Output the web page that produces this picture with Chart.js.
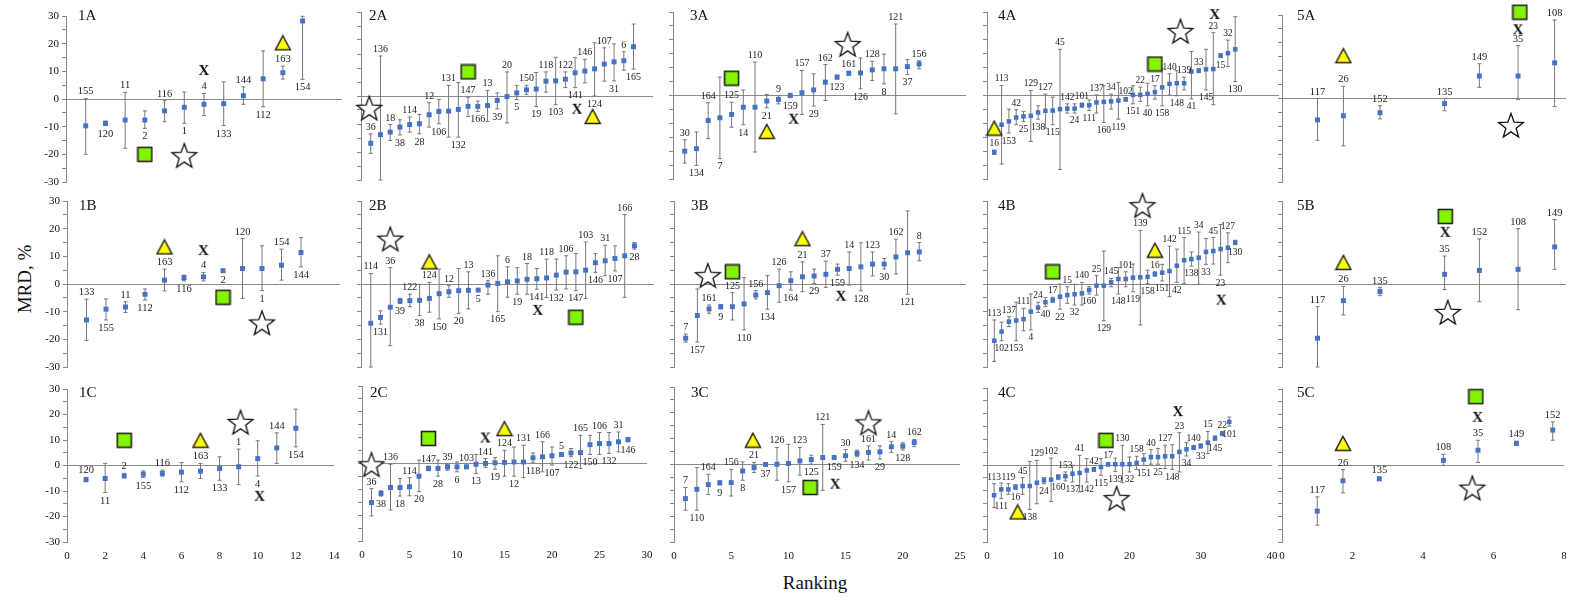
<!DOCTYPE html>
<html>
<head>
<meta charset="utf-8">
<script src="https://cdn.jsdelivr.net/npm/chart.js@4.4.1/dist/chart.umd.min.js"></script>
<style>
  body { margin: 0; background: #fff; width: 1593px; height: 597px; overflow: hidden; position: relative;
         font-family: "Liberation Serif", "Times New Roman", serif; color: #111; }
  canvas { position: absolute; }
  #ylab { position: absolute; left: 25px; top: 279px; transform: translate(-50%, -50%) rotate(-90deg);
          font-size: 19px; white-space: nowrap; }
  #xlab { position: absolute; left: 815px; top: 583px; transform: translate(-50%, -50%); font-size: 19px; }
</style>
</head>
<body>
<div id="ylab">MRD, %</div>
<div id="xlab">Ranking</div>
<script>
const FONT = '"Liberation Serif", "Times New Roman", serif';

// ---- column 1 ----
const ids_1A = [155, 120, 11, 2, 116, 1, 4, 133, 144, 112, 163, 154];
const mrd_1A = [-9.7, -8.8, -7.6, -7.6, -4.3, -3.0, -1.9, -1.7, 1.2, 7.3, 9.5, 28.2];
const hi_1A = [0.2, -8.0, 2.4, -4.3, -0.6, 2.5, 2.0, 6.2, 4.4, 17.4, 11.9, 29.9];
const lo_1A = [-20, -9.6, -17.8, -10.6, -8.2, -8.8, -6.0, -9.6, -1.9, -2.8, 7.2, 7.1];
const side_1A = "ababa babab ab";
const marks_1A = { star: [6, -20.3], sq: [4, -20], tri: [11, 20.3], x: [7, 10.1] };

const ids_1B = [133, 155, 11, 112, 163, 116, 4, 2, 120, 1, 154, 144];
const mrd_1B = [-13.0, -9.1, -8.3, -3.7, 1.4, 2.3, 2.6, 4.8, 5.6, 5.6, 6.8, 11.4];
const hi_1B = [-5.5, -5.4, -6.4, -1.8, 5.4, 3.2, 4.2, 5.3, 16.4, 13.8, 12.6, 16.8];
const lo_1B = [-20.4, -13.0, -10.3, -5.8, -2.5, 1.2, 1.1, 4.3, -5.2, -2.4, 1.4, 6.2];
const side_1B = "ababa babab ab";
const marks_1B = { star: [10, -13.9], sq: [8, -4.8], tri: [5, 13.4], x: [7, 11.9] };

const ids_1C = [120, 11, 2, 155, 116, 112, 163, 133, 1, 4, 144, 154];
const mrd_1C = [-5.5, -5.1, -4.1, -3.4, -3.1, -2.6, -2.2, -1.2, -0.5, 2.7, 6.9, 14.6];
const hi_1C = [-4.7, 0.8, -3.1, -2.1, -1.8, 1.2, 0.8, 3.4, 6.4, 9.7, 12.8, 22.1];
const lo_1C = [-6.4, -10.6, -4.8, -4.7, -4.2, -6.4, -5.1, -5.8, -7.5, -4.1, 0.8, 7.3];
const side_1C = "ababa babab ab";
const marks_1C = { star: [9.1, 17.1], sq: [3, 9.9], tri: [7, 9.9], x: [10.1, -12.3] };

// ---- column 2 ----
const ids_2A = [36, 136, 18, 38, 114, 28, 12, 106, 131, 132, 147, 166, 13, 39, 20, 5, 150, 19, 118, 103, 122, 141, 146, 124, 107, 31, 6, 165];
const mrd_2A = [-16.9, -13.8, -12.9, -11.1, -10.2, -9.9, -6.7, -5.5, -5.4, -4.8, -3.7, -3.7, -3.4, -1.6, -0.2, 1.1, 2.2, 2.5, 5.3, 5.4, 6.0, 8.3, 8.9, 9.7, 11.4, 12.2, 12.6, 17.6];
const hi_2A = [-13.5, 14.3, -10.2, -8.5, -7.5, -6.6, -2.4, -1.2, 3.8, 4.8, -0.4, -1.8, 2.0, 1.1, 8.6, 3.8, 3.8, 8.4, 8.6, 13.8, 8.6, 13.7, 13.1, 19.0, 17.2, 18.6, 15.8, 25.7];
const lo_2A = [-20.5, -30, -15.9, -13.9, -12.9, -13.5, -11.1, -9.9, -14.7, -14.7, -7.3, -5.5, -9.1, -4.6, -9.6, -1.3, 0.5, -3.7, 1.4, -3.1, 3.0, 3.0, 4.7, 0, 5.3, 5.4, 9.2, 9.6];
const side_2A = "aaaba babab ababa babab ababa bab";
const marks_2A = { star: [0.85, -4.2], sq: [11, 8.6], tri: [23.8, -7.3], x: [22.2, -4.9] };

const ids_2B = [114, 131, 36, 39, 122, 38, 124, 150, 12, 20, 13, 5, 136, 165, 6, 19, 18, 141, 118, 132, 106, 147, 103, 146, 31, 107, 166, 28];
const mrd_2B = [-14.2, -12.1, -8.4, -6.1, -6.0, -5.9, -5.2, -3.5, -2.8, -2.4, -2.3, -2.2, -0.4, 0.2, 0.8, 1.1, 1.7, 1.9, 2.2, 3.2, 4.3, 4.4, 5.0, 7.7, 8.4, 9.2, 10.2, 13.8];
const hi_2B = [3.8, -9.7, 5.9, -5.2, -3.7, -0.1, 0.6, 5.4, -0.6, 5.6, 4.4, -1.7, 1.2, 10.2, 6.2, 5.9, 7.4, 5.6, 9.0, 9.0, 10.2, 11.0, 15.2, 11.0, 14.0, 13.8, 25.1, 15.0];
const lo_2B = [-30, -14.5, -22.3, -7.0, -8.2, -11.4, -10.2, -12.6, -4.8, -10.6, -9.0, -2.7, -3.7, -10.0, -4.8, -3.7, -3.7, -1.9, -4.9, -2.2, -1.8, -2.4, -5.2, 4.2, 3.0, 4.7, -4.8, 12.6];
const side_2B = "ababa babab ababa babab ababa bab";
const marks_2B = { star: [3, 16.4], sq: [22, -12.0], tri: [7, 8.0], x: [18.1, -9.7] };

const ids_2C = [36, 38, 136, 18, 114, 20, 147, 28, 39, 6, 103, 13, 141, 19, 124, 12, 131, 118, 166, 107, 5, 122, 165, 150, 106, 132, 31, 146];
const mrd_2C = [-15.1, -11.6, -9.3, -9.3, -9.0, -4.9, -1.9, -1.9, -1.3, -1.3, -1.3, -0.3, 0, 0.3, 0.4, 0.6, 0.6, 2.2, 2.6, 3.0, 3.5, 4.1, 4.2, 7.3, 7.7, 7.7, 8.4, 9.3];
const hi_2C = [-9.7, -10.6, -0.3, -5.8, -5.5, 1.3, -1.0, 1.3, -0.3, 0.6, -0.6, 3.5, 1.9, 2.3, 5.1, 6.4, 7.1, 4.1, 8.4, 6.4, 4.1, 5.8, 10.9, 10.9, 12.0, 12.0, 12.2, 10.0];
const lo_2C = [-20.3, -12.6, -18.0, -12.6, -12.5, -10.9, -2.8, -4.9, -2.6, -3.2, -1.9, -3.9, -1.5, -2.2, -4.9, -4.9, -5.5, 0.3, -3.2, -0.6, 2.8, 2.6, -1.9, 3.5, 3.5, 3.9, 4.5, 8.4];
const side_2C = "ababa babab ababa babab ababa bab";
const marks_2C = { star: [1, -0.3], sq: [7, 9.7], tri: [15, 13.5], x: [13, 9.7] };

// ---- column 3 ----
const ids_3A = [30, 134, 164, 7, 125, 14, 110, 21, 9, 159, 157, 29, 162, 123, 161, 126, 128, 8, 121, 37, 156];
const mrd_3A = [-20.0, -19.1, -9.0, -8.0, -6.8, -4.2, -4.2, -2.0, -1.4, 0, 1.0, 2.0, 4.8, 6.6, 8.0, 8.1, 9.2, 9.6, 9.6, 10.4, 11.3];
const hi_3A = [-15.9, -13.1, -2.6, 6.6, -2.4, 2.0, 12.0, 0.4, 0, 0.8, 9.0, 7.8, 11.1, 7.3, 8.7, 13.5, 12.3, 14.9, 25.7, 12.9, 12.5];
const lo_3A = [-24.3, -25.1, -15.5, -22.7, -11.4, -10.5, -20.3, -4.4, -3.0, -0.8, -6.8, -3.8, -1.8, 5.9, 7.3, 2.4, 5.4, 4.2, -6.6, 7.5, 9.6];
const side_3A = "ababa babab ababa babab a";
const marks_3A = { star: [14.9, 18.5], sq: [5, 6.2], tri: [8, -12.9], x: [10.3, -8.7] };

const ids_3B = [7, 157, 161, 9, 125, 110, 156, 134, 126, 164, 21, 29, 37, 159, 14, 128, 123, 30, 162, 121, 8];
const mrd_3B = [-19.6, -11.4, -9.0, -8.2, -8.2, -7.2, -4.0, -3.1, -0.6, 1.2, 2.6, 2.9, 3.5, 5.3, 5.6, 6.2, 7.2, 7.2, 9.8, 11.3, 11.6];
const hi_3B = [-18.1, -1.8, -7.6, -7.4, -3.1, 2.3, -2.4, 3.0, 5.4, 4.4, 8.0, 5.4, 8.3, 7.2, 11.6, 14.9, 11.6, 9.2, 16.2, 26.4, 15.0];
const lo_3B = [-21.0, -21.0, -10.6, -9.0, -13.0, -16.6, -5.4, -9.1, -6.6, -2.2, -2.8, 0.2, -1.2, 3.2, -0.4, -2.5, 2.9, 5.4, 3.6, -3.7, 8.4];
const side_3B = "ababa babab ababa babab a";
const marks_3B = { star: [2.9, 3.2], sq: [5, 4.4], tri: [11, 16.4], x: [14.3, -4.6] };

const ids_3C = [7, 110, 164, 9, 156, 8, 21, 37, 126, 157, 123, 125, 121, 159, 30, 134, 161, 29, 14, 128, 162];
const mrd_3C = [-13.2, -9.6, -7.8, -7.1, -7.0, -2.5, -1.2, 0, 0.1, 0.4, 1.4, 1.9, 2.7, 2.7, 3.4, 4.3, 4.7, 4.9, 6.9, 7.1, 8.5];
const hi_3C = [-8.9, -1.2, -3.8, -6.3, -1.9, 1.0, 0.8, 0.6, 6.6, 7.8, 6.6, 3.6, 15.5, 3.3, 5.8, 5.6, 7.2, 7.2, 8.8, 8.4, 9.7];
const lo_3C = [-17.7, -17.7, -11.6, -7.9, -12.2, -6.1, -3.1, -0.6, -6.1, -6.7, -4.1, 0.1, -10.0, 2.1, 1.3, 3.0, 1.7, 2.1, 4.7, 5.6, 6.9];
const side_3C = "ababa babab ababa babab a";
const marks_3C = { star: [17, 16.3], sq: [11.9, -8.9], tri: [6.9, 9.4], x: [14.1, -7.8] };

// ---- column 4 ----
const ids_4A = [16, 113, 153, 42, 25, 129, 138, 127, 115, 45, 142, 24, 101, 111, 137, 160, 34, 119, 102, 151, 22, 40, 17, 158, 140, 148, 139, 41, 33, 145, 23, 15, 32, 130];
const mrd_4A = [-20.4, -10.5, -9.3, -7.9, -7.5, -7.3, -6.1, -5.5, -5.4, -4.9, -4.7, -4.7, -3.5, -3.5, -2.5, -2.3, -2.1, -1.8, -1.4, 0.2, 0.2, 0.6, 1.2, 2.9, 4.2, 4.4, 4.4, 8.6, 8.9, 9.4, 9.5, 14.3, 15.2, 16.6];
const hi_4A = [-19.6, 3.6, -4.9, -5.1, -5.7, 1.8, -3.7, 0.5, -0.6, 16.6, -3.0, -3.0, -2.7, -1.6, 0.2, 3.5, 0.5, 4.7, -0.8, 3.5, 3.0, 4.4, 3.5, 9.8, 7.8, 8.9, 6.6, 15.8, 9.6, 16.6, 22.6, 15.0, 19.9, 28.3];
const lo_4A = [-21.2, -24.6, -13.5, -10.5, -9.3, -16.5, -8.5, -11.7, -10.5, -26.6, -6.3, -6.3, -4.2, -5.4, -6.3, -9.7, -4.9, -8.5, -2.0, -3.0, -2.1, -3.7, -1.3, -3.7, 0.2, -0.1, 2.0, -1.2, 8.2, 2.0, -3.3, 13.6, 10.4, 5.0];
const side_4A = "aabab ababa ababa babab ababa babab abab";
const marks_4A = { star: [26.5, 23.2], sq: [23, 11.3], tri: [1, -11.7], x: [31.2, 28.9] };

const ids_4B = [113, 102, 137, 153, 111, 4, 24, 40, 17, 22, 15, 32, 140, 160, 25, 129, 145, 148, 101, 119, 139, 158, 16, 151, 142, 42, 115, 138, 34, 33, 45, 23, 127, 130];
const mrd_4B = [-20.5, -17.2, -13.6, -13.2, -12.7, -10.0, -8.5, -6.6, -5.8, -4.6, -4.0, -3.7, -3.4, -2.2, -0.6, -0.6, 0.6, 1.8, 1.8, 2.3, 2.4, 2.6, 3.6, 4.1, 4.7, 6.6, 8.6, 9.0, 9.5, 11.6, 11.9, 12.6, 13.1, 15.0];
const hi_4B = [-13.0, -13.8, -11.8, -6.6, -8.8, -3.6, -6.6, -4.9, -4.8, -0.1, -1.0, -0.1, 0.6, -1.0, 3.0, 11.9, 2.0, 5.9, 4.4, 7.2, 19.4, 5.0, 4.4, 7.1, 13.7, 12.6, 16.8, 11.6, 18.8, 16.4, 16.8, 21.5, 18.5, 15.8];
const lo_4B = [-28.0, -20.5, -15.4, -20.5, -16.9, -16.6, -10.3, -8.2, -6.7, -9.1, -7.0, -7.6, -7.6, -3.6, -4.0, -13.3, -1.0, -3.6, -1.0, -2.8, -14.8, 0.2, 2.8, 1.1, -4.6, 0.6, 0.2, 6.5, -0.1, 7.1, 7.2, 3.2, 7.7, 14.2];
const side_4B = "ababa babab ababa babab ababa babab abab";
const marks_4B = { star: [21.3, 28.5], sq: [9, 4.4], tri: [23, 12.2], x: [32.1, -6.0] };

const ids_4C = [113, 111, 119, 16, 45, 138, 129, 24, 102, 160, 153, 137, 41, 142, 42, 115, 17, 139, 130, 32, 158, 151, 40, 25, 127, 148, 23, 34, 140, 33, 15, 145, 22, 101];
const mrd_4C = [-11.8, -9.5, -9.5, -8.6, -8.2, -8.2, -6.9, -6.0, -5.7, -4.7, -4.4, -3.4, -3.1, -2.1, -1.7, -0.8, 0.3, 0.3, 0.3, 0.3, 0.8, 2.1, 3.1, 3.1, 3.4, 3.4, 5.1, 6.1, 6.8, 7.4, 8.7, 10.5, 12.2, 16.8];
const hi_4C = [-7.3, -7.0, -7.3, -7.7, -4.9, 1.4, 1.8, -4.9, 2.7, -3.8, -2.7, -0.1, 3.8, 2.5, -1.0, 2.5, 1.0, 2.7, 7.7, 3.1, 3.4, 4.4, 6.0, 6.4, 7.7, 7.9, 12.6, 8.7, 7.6, 8.2, 13.1, 11.3, 13.0, 18.7];
const lo_4C = [-16.6, -13.1, -11.4, -9.5, -11.4, -17.3, -15.1, -7.3, -14.2, -5.7, -6.2, -6.6, -10.5, -6.6, -2.5, -4.0, -0.4, -2.5, -6.9, -2.7, -1.7, -0.1, 0.3, 0.3, -1.4, -1.7, -2.7, 3.5, 6.0, 6.6, 4.4, 9.6, 11.4, 15.1];
const side_4C = "ababa babab ababa babab ababa babab abab";
const marks_4C = { star: [18.2, -12.9], sq: [16.7, 9.6], tri: [4.3, -18.3], x: [26.8, 20.6] };

// ---- column 5 (points sit at uneven ranking positions) ----
const rank_5 = [1, 1.73, 2.76, 4.58, 5.56, 6.65, 7.68];

const ids_5A = [117, 26, 152, 135, 149, 35, 108];
const mrd_5A = [-7.7, -6.2, -5.1, -1.8, 8.1, 8.1, 12.8];
const hi_5A = [0, 4.4, -2.6, 0, 12.5, 19, 28.2];
const lo_5A = [-15, -17, -7.3, -4.4, 4.0, -0.4, -2.9];
const side_5A = "aaaaaaa";
const marks_5A = { star: [6.45, -9.5], sq: [6.7, 31], tri: [1.73, 15.4], x: [6.65, 24.5] };

const ids_5B = [117, 26, 135, 35, 152, 108, 149];
const mrd_5B = [-19.6, -6.0, -2.7, 3.5, 4.9, 5.3, 13.4];
const hi_5B = [-8.2, -0.9, -1.3, 10.1, 16.3, 20.0, 23.3];
const lo_5B = [-30, -11.2, -4.2, -2.0, -6.4, -9.3, 5.3];
const side_5B = "aaaaaaa";
const marks_5B = { star: [4.67, -10.1], sq: [4.6, 24.4], tri: [1.73, 7.8], x: [4.6, 18.5] };

const ids_5C = [117, 26, 135, 108, 35, 149, 152];
const mrd_5C = [-17.9, -6.0, -5.2, 2.0, 6.0, 8.7, 13.9];
const hi_5C = [-12.3, -1.6, -4.5, 4.4, 9.9, 9.5, 17.1];
const lo_5C = [-23.4, -10.7, -5.9, 0, 1.2, 7.9, 9.9];
const side_5C = "aaaaaaa";
const marks_5C = { star: [5.4, -8.7], sq: [5.5, 27], tri: [1.73, 8.7], x: [5.55, 18.7] };

const xMax = [14, 30, 25, 40, 8];
const xStep = [2, 5, 5, 10, 2];

const panels = [
  ['1A', ids_1A, mrd_1A, hi_1A, lo_1A, side_1A, marks_1A, null],
  ['1B', ids_1B, mrd_1B, hi_1B, lo_1B, side_1B, marks_1B, null],
  ['1C', ids_1C, mrd_1C, hi_1C, lo_1C, side_1C, marks_1C, null],
  ['2A', ids_2A, mrd_2A, hi_2A, lo_2A, side_2A, marks_2A, null],
  ['2B', ids_2B, mrd_2B, hi_2B, lo_2B, side_2B, marks_2B, null],
  ['2C', ids_2C, mrd_2C, hi_2C, lo_2C, side_2C, marks_2C, null],
  ['3A', ids_3A, mrd_3A, hi_3A, lo_3A, side_3A, marks_3A, null],
  ['3B', ids_3B, mrd_3B, hi_3B, lo_3B, side_3B, marks_3B, null],
  ['3C', ids_3C, mrd_3C, hi_3C, lo_3C, side_3C, marks_3C, null],
  ['4A', ids_4A, mrd_4A, hi_4A, lo_4A, side_4A, marks_4A, null],
  ['4B', ids_4B, mrd_4B, hi_4B, lo_4B, side_4B, marks_4B, null],
  ['4C', ids_4C, mrd_4C, hi_4C, lo_4C, side_4C, marks_4C, null],
  ['5A', ids_5A, mrd_5A, hi_5A, lo_5A, side_5A, marks_5A, rank_5],
  ['5B', ids_5B, mrd_5B, hi_5B, lo_5B, side_5B, marks_5B, rank_5],
  ['5C', ids_5C, mrd_5C, hi_5C, lo_5C, side_5C, marks_5C, rank_5],
];

// plot boxes on the page: [x=0 px, x=max px, y=30 px, y=-30 px]
const boxes = {
  '1A': [66, 342, 16, 182], '1B': [67, 340, 201, 367], '1C': [67, 334, 389, 542],
  '2A': [361, 653, 12, 180], '2B': [361, 654, 201, 367], '2C': [362, 647, 386, 541],
  '3A': [673, 966, 12, 179], '3B': [674, 966, 201, 367], '3C': [674, 960, 387, 542],
  '4A': [987, 1279, 12, 179], '4B': [987, 1279, 201, 367], '4C': [987, 1272, 388, 542],
  '5A': [1282, 1566, 15, 182], '5B': [1282, 1566, 201, 367], '5C': [1282, 1564, 389, 542],
};
const titleDx = [12, 8, 17, 11, 15];
const titleY = [16, 206, 393];
const labelSize = [10.5, 10, 10, 9.5, 10.5];

// marker glyphs
function glyph(kind) {
  const c = document.createElement('canvas');
  const g = c.getContext('2d');
  if (kind === 'star') {
    c.width = 30; c.height = 30;
    g.beginPath();
    for (let k = 0; k < 10; k++) {
      const r = k % 2 ? 5.4 : 13;
      const a = -Math.PI / 2 + k * Math.PI / 5;
      const px = 15 + r * Math.cos(a), py = 16.5 + r * Math.sin(a);
      k ? g.lineTo(px, py) : g.moveTo(px, py);
    }
    g.closePath();
    g.fillStyle = '#fff'; g.fill();
    g.lineWidth = 1.3; g.strokeStyle = '#111'; g.stroke();
  } else if (kind === 'sq') {
    c.width = 17; c.height = 17;
    g.fillStyle = '#84f400'; g.fillRect(1.5, 1.5, 14, 14);
    g.lineWidth = 1.6; g.strokeStyle = '#222'; g.strokeRect(1.5, 1.5, 14, 14);
  } else if (kind === 'tri') {
    c.width = 18; c.height = 17;
    g.beginPath(); g.moveTo(9, 1.5); g.lineTo(16.5, 15.5); g.lineTo(1.5, 15.5); g.closePath();
    g.fillStyle = '#ffff00'; g.fill();
    g.lineWidth = 1.5; g.strokeStyle = '#222'; g.stroke();
  } else {
    c.width = 18; c.height = 18;
    g.font = 'bold 15px ' + FONT; g.fillStyle = '#111';
    g.textAlign = 'center'; g.textBaseline = 'middle';
    g.fillText('X', 9, 9.5);
  }
  return c;
}
const glyphs = { star: glyph('star'), sq: glyph('sq'), tri: glyph('tri'), x: glyph('x') };

panels.forEach(([name, ids, mrd, hi, lo, sideStr, marks, ranks]) => {
  const col = +name[0] - 1;
  const row = 'ABC'.indexOf(name[1]);
  const side = sideStr.replace(/ /g, '');
  const rk = ranks || mrd.map((v, i) => i + 1);
  const [L, R, T, B] = boxes[name];
  const padL = col === 0 ? 45 : 12, padR = 16, padT = 24, padB = row === 2 ? 26 : 14;
  const cv = document.createElement('canvas');
  cv.width = R - L + padL + padR;
  cv.height = B - T + padT + padB;
  cv.style.left = (L - padL) + 'px';
  cv.style.top = (T - padT) + 'px';
  document.body.appendChild(cv);

  const lf = labelSize[col];
  const plugin = {
    id: 'panel' + name,
    beforeDatasetsDraw(chart) {
      const { ctx, scales: { x, y } } = chart;
      ctx.save();
      ctx.strokeStyle = '#777'; ctx.lineWidth = 1;
      mrd.forEach((v, i) => {
        const px = x.getPixelForValue(rk[i]);
        const yt = y.getPixelForValue(hi[i]), yb = y.getPixelForValue(lo[i]);
        ctx.beginPath();
        ctx.moveTo(px, yt); ctx.lineTo(px, yb);
        ctx.moveTo(px - 2, yt); ctx.lineTo(px + 2, yt);
        ctx.moveTo(px - 2, yb); ctx.lineTo(px + 2, yb);
        ctx.stroke();
      });
      ctx.restore();
    },
    afterDatasetsDraw(chart) {
      const { ctx, scales: { x, y }, chartArea } = chart;
      ctx.save();
      ctx.fillStyle = '#222';
      ctx.font = lf + 'px ' + FONT;
      ctx.textAlign = 'center';
      ctx.textBaseline = 'alphabetic';
      ids.forEach((id, i) => {
        const px = x.getPixelForValue(rk[i]);
        if (side[i] === 'a') ctx.fillText(String(id), px, y.getPixelForValue(hi[i]) - 4);
        else ctx.fillText(String(id), px, y.getPixelForValue(lo[i]) + 4 + lf * 0.68);
      });
      ctx.fillStyle = '#111';
      ctx.font = '15px ' + FONT;
      ctx.textAlign = 'left';
      ctx.textBaseline = 'middle';
      ctx.fillText(name, chartArea.left + titleDx[col], chartArea.top + titleY[row] - T);
      ctx.restore();
    }
  };

  const markSets = Object.keys(marks).map(k => ({
    data: [{ x: marks[k][0], y: marks[k][1] }],
    pointStyle: glyphs[k],
    pointRadius: 8,
    clip: false,
  }));

  new Chart(cv, {
    type: 'scatter',
    data: {
      datasets: [
        ...markSets,
        {
          data: mrd.map((v, i) => ({ x: rk[i], y: v })),
          pointStyle: 'rect',
          pointRadius: col === 3 ? 3.2 : 3.5,
          backgroundColor: '#4472c4',
          borderWidth: 0,
          clip: false,
        }
      ]
    },
    options: {
      responsive: false,
      animation: false,
      devicePixelRatio: 1,
      events: [],
      layout: { padding: { top: padT, right: padR, left: 0, bottom: 0 } },
      plugins: { legend: { display: false }, tooltip: { enabled: false } },
      scales: {
        x: {
          type: 'linear', min: 0, max: xMax[col],
          afterFit: s => { s.height = padB; },
          border: { display: false },
          grid: { display: false, drawTicks: false },
          ticks: { display: row === 2, stepSize: xStep[col], autoSkip: false, padding: 8,
                   color: '#111', font: { family: FONT, size: 11 } }
        },
        y: {
          min: -30, max: 30,
          afterFit: s => { s.width = padL; },
          border: { display: true, color: '#888' },
          grid: { color: c => c.tick.value === 0 ? '#8a8a8a' : 'rgba(0,0,0,0)', tickColor: '#888', tickLength: 4 },
          ticks: { stepSize: 5, autoSkip: false, padding: 3, color: '#111', font: { family: FONT, size: 11 },
                   callback: v => (col === 0 && v % 10 === 0) ? v : '' }
        }
      }
    },
    plugins: [plugin]
  });
});
</script>
</body>
</html>
